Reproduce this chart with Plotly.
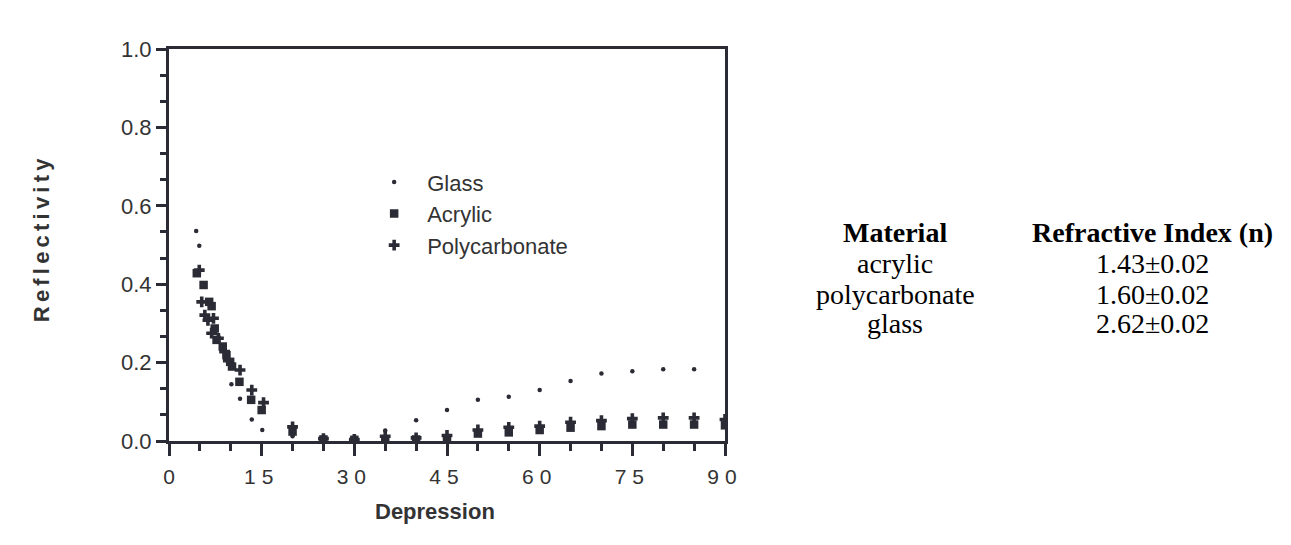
import plotly.graph_objects as go

# Reflectivity versus depression angle for three window materials
glass_x = [4.4, 4.9, 10.1, 11.5, 13.4, 15.1, 20, 25, 30, 35, 40, 45, 50, 55, 60, 65, 70, 75, 80, 85]
glass_y = [0.536, 0.498, 0.145, 0.108, 0.055, 0.028, 0.012, 0.006, 0.006, 0.027, 0.053, 0.079,
           0.105, 0.113, 0.130, 0.153, 0.172, 0.178, 0.183, 0.183]

acrylic_x = [4.5, 5.6, 6.5, 6.9, 7.4, 7.7, 8.7, 9.3, 9.9, 10.2, 11.4, 13.3, 15.0,
             20, 25, 30, 35, 40, 45, 50, 55, 60, 65, 70, 75, 80, 85, 90]
acrylic_y = [0.428, 0.398, 0.355, 0.344, 0.287, 0.258, 0.241, 0.219, 0.202, 0.190, 0.151, 0.105, 0.079,
             0.024, 0.004, 0.003, 0.003, 0.004, 0.007, 0.019, 0.022, 0.028, 0.034, 0.038, 0.042, 0.042,
             0.042, 0.040]

poly_x = [4.9, 5.3, 5.8, 6.3, 6.9, 7.2, 8.0, 9.0, 9.6, 11.5, 13.4, 15.3,
          20, 25, 30, 35, 40, 45, 50, 55, 60, 65, 70, 75, 80, 85, 90]
poly_y = [0.436, 0.355, 0.321, 0.308, 0.275, 0.313, 0.262, 0.228, 0.205, 0.181, 0.130, 0.098,
          0.036, 0.006, 0.004, 0.012, 0.008, 0.014, 0.028, 0.035, 0.038, 0.048, 0.052, 0.057,
          0.059, 0.059, 0.055]

x_ticks = [0, 15, 30, 45, 60, 75, 90]
x_ticklabels = ["0", "15", "30", "45", "60", "75", "90"]
y_ticks = [0.0, 0.2, 0.4, 0.6, 0.8, 1.0]
y_ticklabels = ["0.0", "0.2", "0.4", "0.6", "0.8", "1.0"]

# Refractive index table shown beside the plot
materials = ["acrylic", "polycarbonate", "glass"]
indices = ["1.43±0.02", "1.60±0.02", "2.62±0.02"]
table_header = ["Material", "Refractive Index (n)"]

INK = "#2b2b36"
TEXT = "#333333"
SANS = "Liberation Sans, Arial, Helvetica, sans-serif"
SERIF = "Liberation Serif, Times New Roman, serif"


def spaced(label, px):
    """Wrap a label in a span with extra letter spacing."""
    return f"<span style='letter-spacing:{px}px'>{label}</span>"


fig = go.Figure()
fig.add_trace(go.Scatter(x=glass_x, y=glass_y, mode="markers", name="Glass",
                         marker=dict(symbol="circle", size=4.5, color=INK)))
fig.add_trace(go.Scatter(x=acrylic_x, y=acrylic_y, mode="markers", name="Acrylic",
                         marker=dict(symbol="square", size=8.5, color=INK)))
fig.add_trace(go.Scatter(x=poly_x, y=poly_y, mode="markers", name="Polycarbonate",
                         marker=dict(symbol="cross", size=9, color=INK)))

axis_common = dict(showline=True, linecolor=INK, linewidth=3, mirror=True,
                   showgrid=False, zeroline=False, ticks="outside", tickcolor=INK,
                   tickwidth=2.5)

fig.update_xaxes(range=[0, 90], tickvals=x_ticks,
                 ticktext=[spaced(t, 6) if len(t) > 1 else t for t in x_ticklabels],
                 ticklen=12, ticklabelstandoff=3,
                 tickfont=dict(family=SANS, size=21, color=TEXT),
                 minor=dict(dtick=5, tick0=0, ticklen=7, tickwidth=2.5, tickcolor=INK, ticks="outside"),
                 **axis_common)
fig.update_yaxes(range=[0, 1], tickvals=y_ticks, ticktext=y_ticklabels, ticklen=10,
                 ticklabelstandoff=0,
                 tickfont=dict(family=SANS, size=22, color=TEXT),
                 minor=dict(dtick=0.2 / 3, tick0=0, ticklen=6, tickwidth=2.5, tickcolor=INK, ticks="outside"),
                 **axis_common)

annotations = [
    dict(text="<b>Depression</b>", xref="paper", yref="paper", x=0.478, y=-0.181,
         showarrow=False, font=dict(family=SANS, size=22, color=TEXT),
         xanchor="center", yanchor="middle"),
    dict(text="<b>" + spaced("Reflectivity", 4.2) + "</b>", xref="paper", yref="paper",
         x=-0.228, y=0.518, showarrow=False, textangle=-90,
         font=dict(family=SANS, size=22, color=TEXT),
         xanchor="center", yanchor="middle"),
]

col_x = [1.306, 1.768]
header_y = 0.532
row_y = [0.453, 0.375, 0.301]
for cx, head in zip(col_x, table_header):
    annotations.append(dict(text=f"<b>{head}</b>", xref="paper", yref="paper", x=cx, y=header_y,
                            showarrow=False, xanchor="center", yanchor="middle",
                            font=dict(family=SERIF, size=28, color="black")))
for ry, mat, idx in zip(row_y, materials, indices):
    annotations.append(dict(text=mat, xref="paper", yref="paper", x=col_x[0], y=ry,
                            showarrow=False, xanchor="center", yanchor="middle",
                            font=dict(family=SERIF, size=28, color="black")))
    annotations.append(dict(text=idx, xref="paper", yref="paper", x=col_x[1], y=ry,
                            showarrow=False, xanchor="center", yanchor="middle",
                            font=dict(family=SERIF, size=28, color="black")))

fig.update_layout(
    width=1291, height=545,
    margin=dict(l=169, r=566, t=49, b=104),
    paper_bgcolor="white", plot_bgcolor="white",
    showlegend=True,
    legend=dict(x=0.3456, y=0.58, xanchor="left", yanchor="middle",
                bgcolor="rgba(0,0,0,0)", borderwidth=0, tracegroupgap=0,
                font=dict(family=SANS, size=22, color=TEXT), itemwidth=56),
    annotations=annotations,
)

fig.write_html("out.html")
